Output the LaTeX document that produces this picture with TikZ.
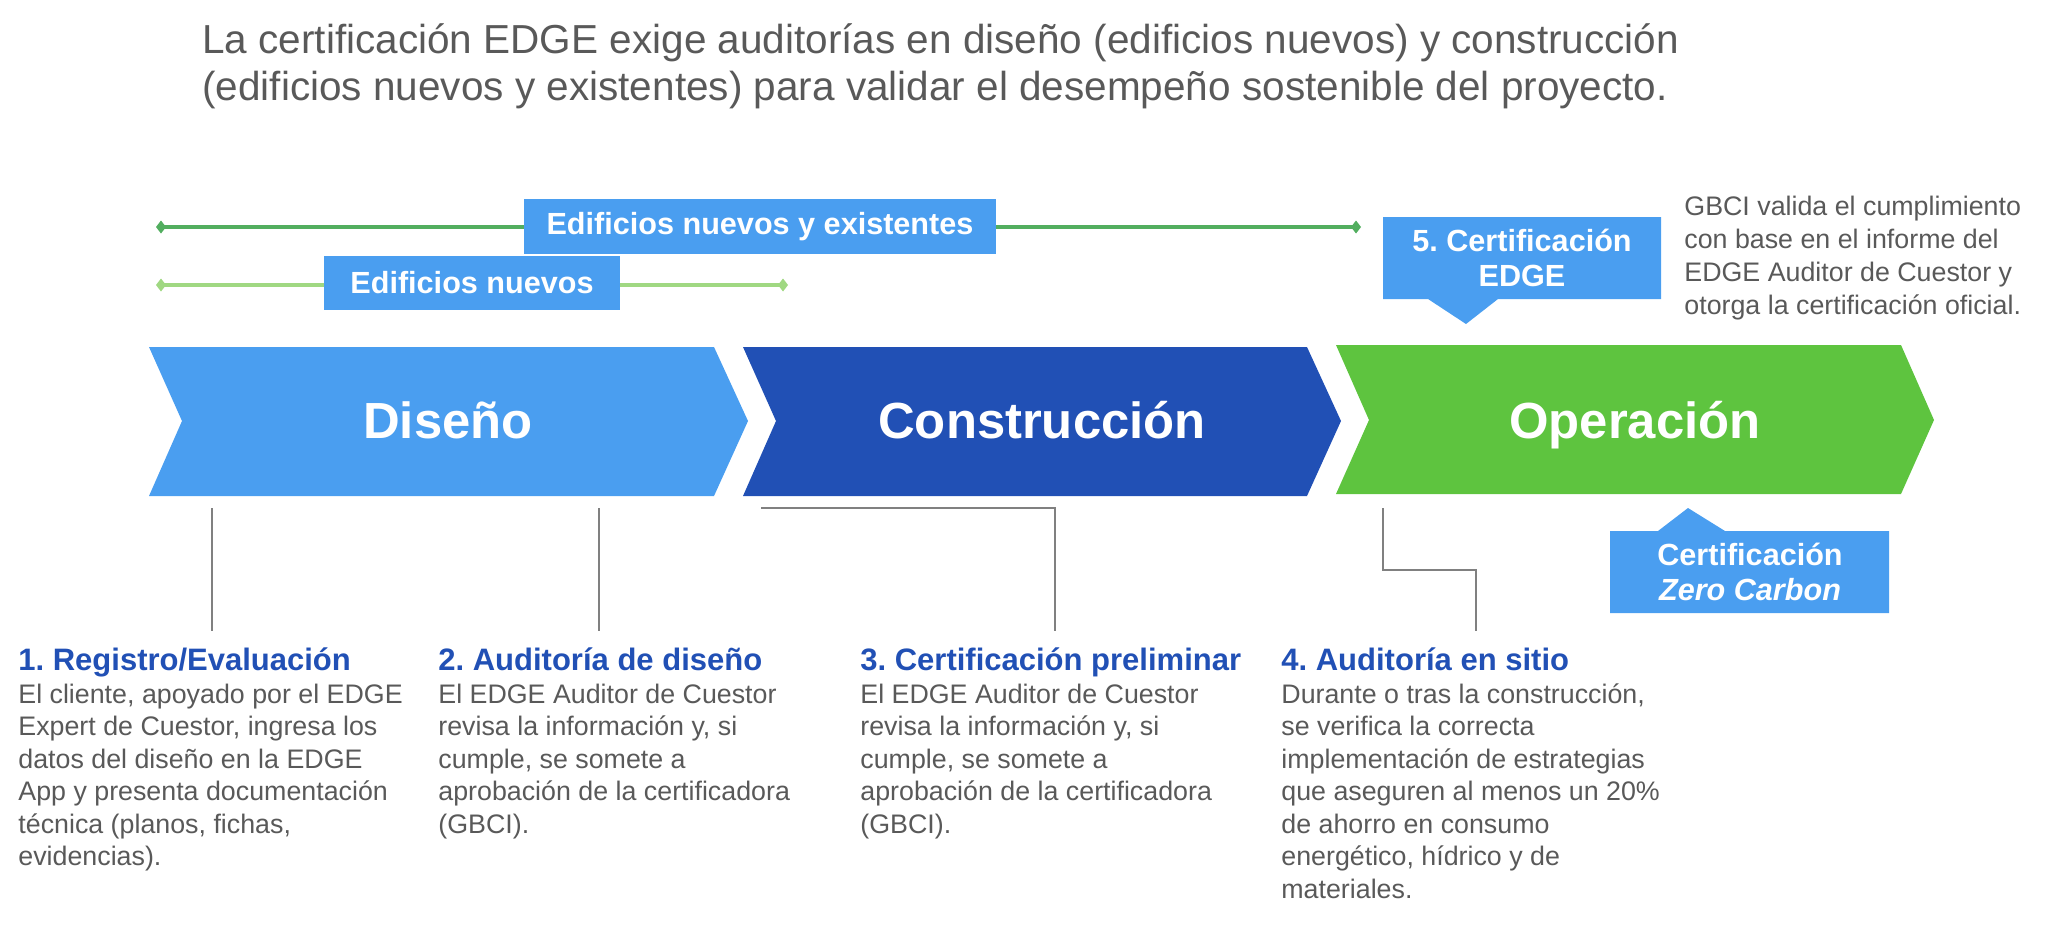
\documentclass[tikz,border=0pt]{standalone}
\usepackage{fontspec}
\setmainfont{Liberation Sans}
\usetikzlibrary{arrows.meta}

\definecolor{lightblue}{HTML}{4A9EF0}
\definecolor{darkblue}{HTML}{2150B5}
\definecolor{leafgreen}{HTML}{5EC43F}
\definecolor{spangreen}{HTML}{52AE5F}
\definecolor{spanlight}{HTML}{A0D882}
\definecolor{textgray}{HTML}{595959}
\definecolor{linegray}{HTML}{808080}

\begin{document}
\frenchspacing
\begin{tikzpicture}[x=0.5pt, y=-0.5pt,
	phase/.style={anchor=base, inner sep=0pt, text=white, font=\bfseries\fontsize{25.4}{30}\selectfont},
	tag/.style={fill=lightblue, text=white, inner sep=0pt, align=center, font=\bfseries\fontsize{15.3}{17.5}\selectfont},
	head/.style={anchor=base west, inner sep=0pt, text=darkblue, font=\bfseries\fontsize{15.5}{18}\selectfont},
	body/.style={anchor=base west, inner sep=0pt, align=left, text=textgray, font=\fontsize{13.4}{16.25}\selectfont},
	link/.style={linegray, line width=1.3pt},
	spanline/.style={line width=2pt, >={Diamond[length=5pt,width=6.5pt]}, <->}]
	
	\useasboundingbox (0,0) rectangle (2068,928);
	
	% the base of a text in lines is its last line
	\node[anchor=base west, inner sep=0pt, align=left, text=textgray, font=\fontsize{20.25}{23.5}\selectfont] (title) at (202,100) {La certificación EDGE exige auditorías en diseño (edificios nuevos) y construcción\\(edificios nuevos y existentes) para validar el desempeño sostenible del proyecto.};
	
	% ranges of the audits
	\draw[spanline, spangreen] (156,227) coordinate (sa1) -- (1361,227) coordinate (sa2);
	\draw[spanline, spanlight] (156,285) coordinate (sn1) -- (788,285) coordinate (sn2);
	
	\node[tag, minimum width=236pt, minimum height=27.5pt] (spanall) at (760,226.5) {Edificios nuevos y existentes};
	\node[tag, minimum width=148pt, minimum height=27pt] (spannew) at (472,283) {Edificios nuevos};
	
	% phases
	\fill[lightblue] (149,347) -- (714,347) -- (748,421) -- (714,496) -- (149,496) -- (182,421) -- cycle;
	\fill[darkblue] (743,347) -- (1307,347) -- (1341,421) -- (1307,496) -- (743,496) -- (776,421) -- cycle;
	\fill[leafgreen] (1336,345) -- (1901,345) -- (1934,420) -- (1901,494) -- (1336,494) -- (1369,420) -- cycle;
	
	\node[phase] (dis) at (448,438) {Diseño};
	\node[phase] (con) at (1042,438) {Construcción};
	\node[phase] (ope) at (1635,438) {Operación};
	
	% callouts
	\fill[lightblue] (1383,217) -- (1661,217) -- (1661,299) -- (1498,299) -- (1466,324) -- (1428,299) -- (1383,299) -- cycle;
	\node[tag, fill=none] (certedge) at (1522,258) {5. Certificación\\EDGE};
	
	\node[anchor=base west, inner sep=0pt, align=left, text=textgray, font=\fontsize{13.4}{16.35}\selectfont] (note) at (1684,314) {GBCI valida el cumplimiento\\con base en el informe del\\EDGE Auditor de Cuestor y\\otorga la certificación oficial.};
	
	\fill[lightblue] (1610,531) -- (1658,531) -- (1688,508) -- (1725,531) -- (1889,531) -- (1889,613) -- (1610,613) -- cycle;
	\node[tag, fill=none] (zerocarbon) at (1750,572) {Certificación\\\textit{Zero Carbon}};
	
	% leaders down to the steps
	\draw[link] (212,508) coordinate (k1) -- (212,631) coordinate (e1);
	\draw[link] (599,508) coordinate (k2) -- (599,631) coordinate (e2);
	\draw[link] (761,508) coordinate (k3) -| (1055,631) coordinate (e3);
	\draw[link] (1383,508) coordinate (k4) |- (1476,570) -- (1476,631) coordinate (e4);
	
	% steps
	\node[head] (h1) at (18,670) {1. Registro/Evaluación};
	\node[head] (h2) at (438,670) {2. Auditoría de diseño};
	\node[head] (h3) at (860,670) {3. Certificación preliminar};
	\node[head] (h4) at (1281,670) {4. Auditoría en sitio};
	
	\node[body] (b1) at (18,865.5) {El cliente, apoyado por el EDGE\\Expert de Cuestor, ingresa los\\datos del diseño en la EDGE\\App y presenta documentación\\técnica (planos, fichas,\\evidencias).};
	\node[body] (b2) at (438,833) {El EDGE Auditor de Cuestor\\revisa la información y, si\\cumple, se somete a\\aprobación de la certificadora\\(GBCI).};
	\node[body] (b3) at (860,833) {El EDGE Auditor de Cuestor\\revisa la información y, si\\cumple, se somete a\\aprobación de la certificadora\\(GBCI).};
	\node[body] (b4) at (1281,898) {Durante o tras la construcción,\\se verifica la correcta\\implementación de estrategias\\que aseguren al menos un 20\%\\de ahorro en consumo\\energético, hídrico y de\\materiales.};
	
\end{tikzpicture}
\end{document}
